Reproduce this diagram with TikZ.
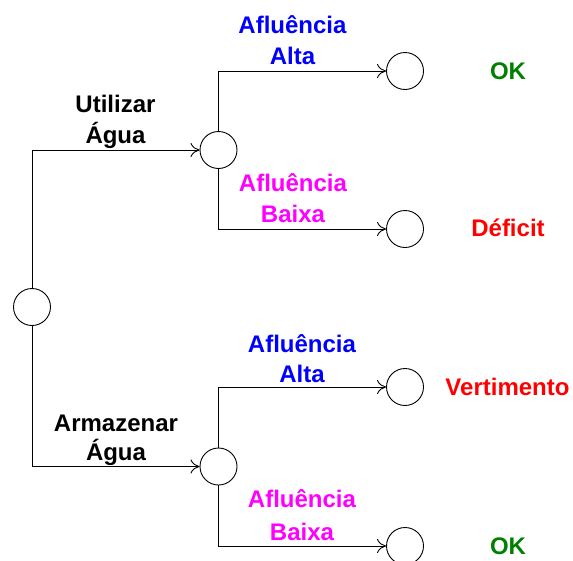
\documentclass[tikz,border=0pt]{standalone}
\usepackage{fontspec}
\setmainfont{Liberation Sans}
\usetikzlibrary{arrows.meta}
\definecolor{okgreen}{RGB}{0,128,0}
\definecolor{highblue}{RGB}{0,0,255}
\definecolor{lowpink}{RGB}{255,0,255}
\definecolor{badred}{RGB}{255,0,0}
\begin{document}
\begin{tikzpicture}[x=1pt,y=-1pt,
  chance/.style={circle,draw,minimum size=37pt,inner sep=0pt,line width=0.9pt},
  lbl/.style={font=\fontsize{24}{30}\selectfont\bfseries,anchor=base,inner sep=0pt},
  branch/.style={draw,line width=0.9pt,-{To[length=9pt,width=14pt]}}]
\useasboundingbox (0,0) rectangle (573,560);

% decision and chance nodes
\node[chance] (root) at (32,307) {};
\node[chance] (use)  at (218.5,150) {};
\node[chance] (keep) at (218.5,466.5) {};
\node[chance] (o1) at (405,71) {};
\node[chance] (o2) at (405,229) {};
\node[chance] (o3) at (405,387) {};
\node[chance] (o4) at (405,546) {};

% branches
\draw[branch] (root.north) |- (use.west);
\draw[branch] (root.south) |- (keep.west);
\draw[branch] (use.north) |- (o1.west);
\draw[branch] (use.south) |- (o2.west);
\draw[branch] (keep.north) |- (o3.west);
\draw[branch] (keep.south) |- (o4.west);

% decision labels
\node[lbl] (u1) at (115.5,112.5) {Utilizar};
\node[lbl] (u2) at (115.5,143.5) {Água};
\node[lbl] (k1) at (116,431.5) {Armazenar};
\node[lbl] (k2) at (116,460.5) {Água};

% inflow labels
\node[lbl,text=highblue] (h1) at (292.5,33.3) {Afluência};
\node[lbl,text=highblue] (h2) at (292.5,64.3) {Alta};
\node[lbl,text=lowpink] (l1) at (293,191.7) {Afluência};
\node[lbl,text=lowpink] (l2) at (293,222.7) {Baixa};
\node[lbl,text=highblue] (h3) at (302,352.7) {Afluência};
\node[lbl,text=highblue] (h4) at (302,382.3) {Alta};
\node[lbl,text=lowpink] (l3) at (302,507.7) {Afluência};
\node[lbl,text=lowpink] (l4) at (302,540) {Baixa};

% outcomes
\node[lbl,text=okgreen] (r1) at (508,79) {OK};
\node[lbl,text=badred] (r2) at (508,236.7) {Déficit};
\node[lbl,text=badred] (r3) at (507.5,395) {Vertimento};
\node[lbl,text=okgreen] (r4) at (508,554) {OK};
\end{tikzpicture}
\end{document}
